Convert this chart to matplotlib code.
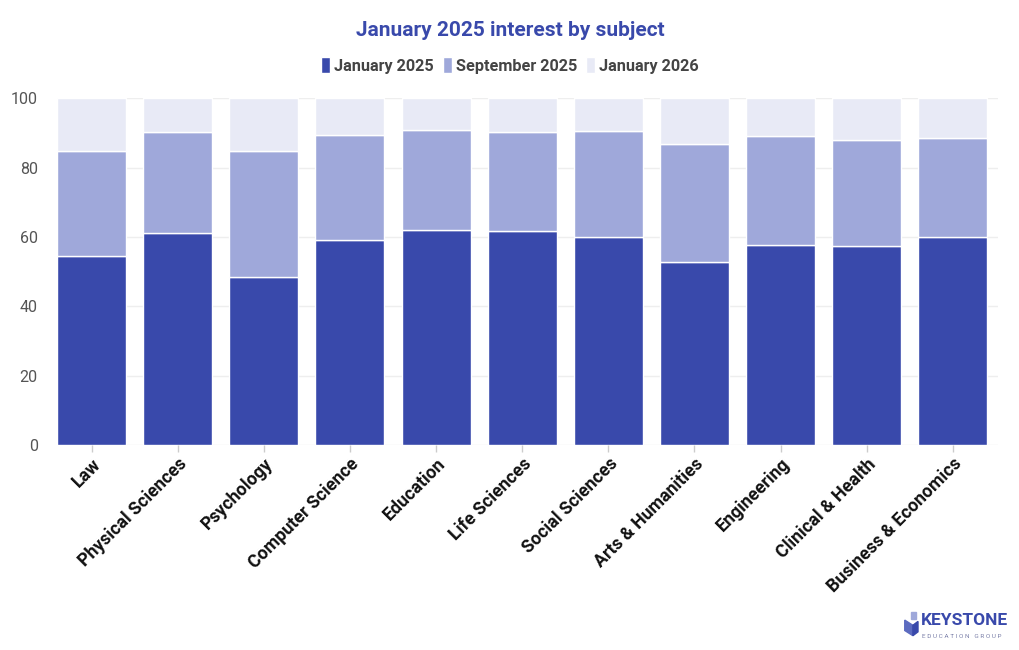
import numpy as np
import matplotlib as mpl
import matplotlib.pyplot as plt
from matplotlib.patches import Polygon

plt.rcParams['font.family'] = ['Roboto', 'DejaVu Sans']

# dados
subjects = ["Law", "Physical Sciences", "Psychology", "Computer Science", "Education",
            "Life Sciences", "Social Sciences", "Arts & Humanities", "Engineering",
            "Clinical & Health", "Business & Economics"]
jan_2025 = [54.4, 61.1, 48.6, 59.1, 62.1, 61.6, 60.0, 52.7, 57.6, 57.3, 60.0]
sep_2025 = [30.4, 29.1, 36.1, 30.3, 28.7, 28.7, 30.5, 34.1, 31.4, 30.6, 28.5]
jan_2026 = [15.2, 9.8, 15.3, 10.6, 9.2, 9.7, 9.5, 13.2, 11.0, 12.1, 11.5]

series = [("January 2025", jan_2025, "#3949ab"),
          ("September 2025", sep_2025, "#9fa8da"),
          ("January 2026", jan_2026, "#e8eaf6")]

fig = plt.figure(figsize=(10.2, 6.5), dpi=100)
ax = fig.add_axes([0.056, 0.315, 0.922, 0.534])

x = np.arange(len(subjects))
base = np.zeros(len(subjects))
handles = []
for nome, vals, cor in series:
    b = ax.bar(x, vals, bottom=base, width=0.8, color=cor, edgecolor="white",
               linewidth=1, label=nome, zorder=3)
    handles.append(b)
    base += np.array(vals)

ax.set_ylim(0, 100)
ax.set_xlim(-0.4, 10.52)
ax.set_yticks([0, 20, 40, 60, 80, 100])
ax.yaxis.grid(True, color="#eeeeee", linewidth=1, zorder=0)
for s in ax.spines.values():
    s.set_visible(False)
ax.tick_params(axis="y", length=0, labelsize=11.5, labelcolor="#555555", pad=14)
ax.tick_params(axis="x", length=5, color="#cccccc", width=1, pad=2)
ax.set_xticks(x)
ax.set_xticklabels(subjects, rotation=45, ha="right", rotation_mode="anchor",
                   fontsize=12.8, fontweight="bold", color="#111111")

fig.text(0.5, 0.953, "January 2025 interest by subject", ha="center", va="center",
         fontsize=15, fontweight="bold", color="#3949ab")

leg = fig.legend(handles=handles, loc="center", bbox_to_anchor=(0.5, 0.899),
                 ncol=3, frameon=False, fontsize=11.7, handlelength=0.55,
                 handleheight=1.1, handletextpad=0.25, columnspacing=0.55)
for t in leg.get_texts():
    t.set_fontweight("bold")
    t.set_color("#444444")

# logo
fig.text(0.903, 0.045, "KEYSTONE", fontsize=12.5, fontweight="bold", color="#3949ab",
         va="center", ha="left")
fig.text(0.904, 0.021, "E D U C A T I O N   G R O U P", fontsize=4.6, color="#7a7fa8",
         va="center", ha="left")
fig.patches.append(Polygon([[0.887, 0.046], [0.895, 0.038], [0.895, 0.022], [0.887, 0.030]],
                           closed=True, transform=fig.transFigure, color="#5c6bc0"))
fig.patches.append(Polygon([[0.895, 0.038], [0.900, 0.044], [0.900, 0.028], [0.895, 0.022]],
                           closed=True, transform=fig.transFigure, color="#3949ab"))
fig.patches.append(Polygon([[0.893, 0.047], [0.898, 0.047], [0.898, 0.058], [0.893, 0.058]],
                           closed=True, transform=fig.transFigure, color="#9fa8da"))

fig.savefig("out.png", dpi=100, facecolor="white")
